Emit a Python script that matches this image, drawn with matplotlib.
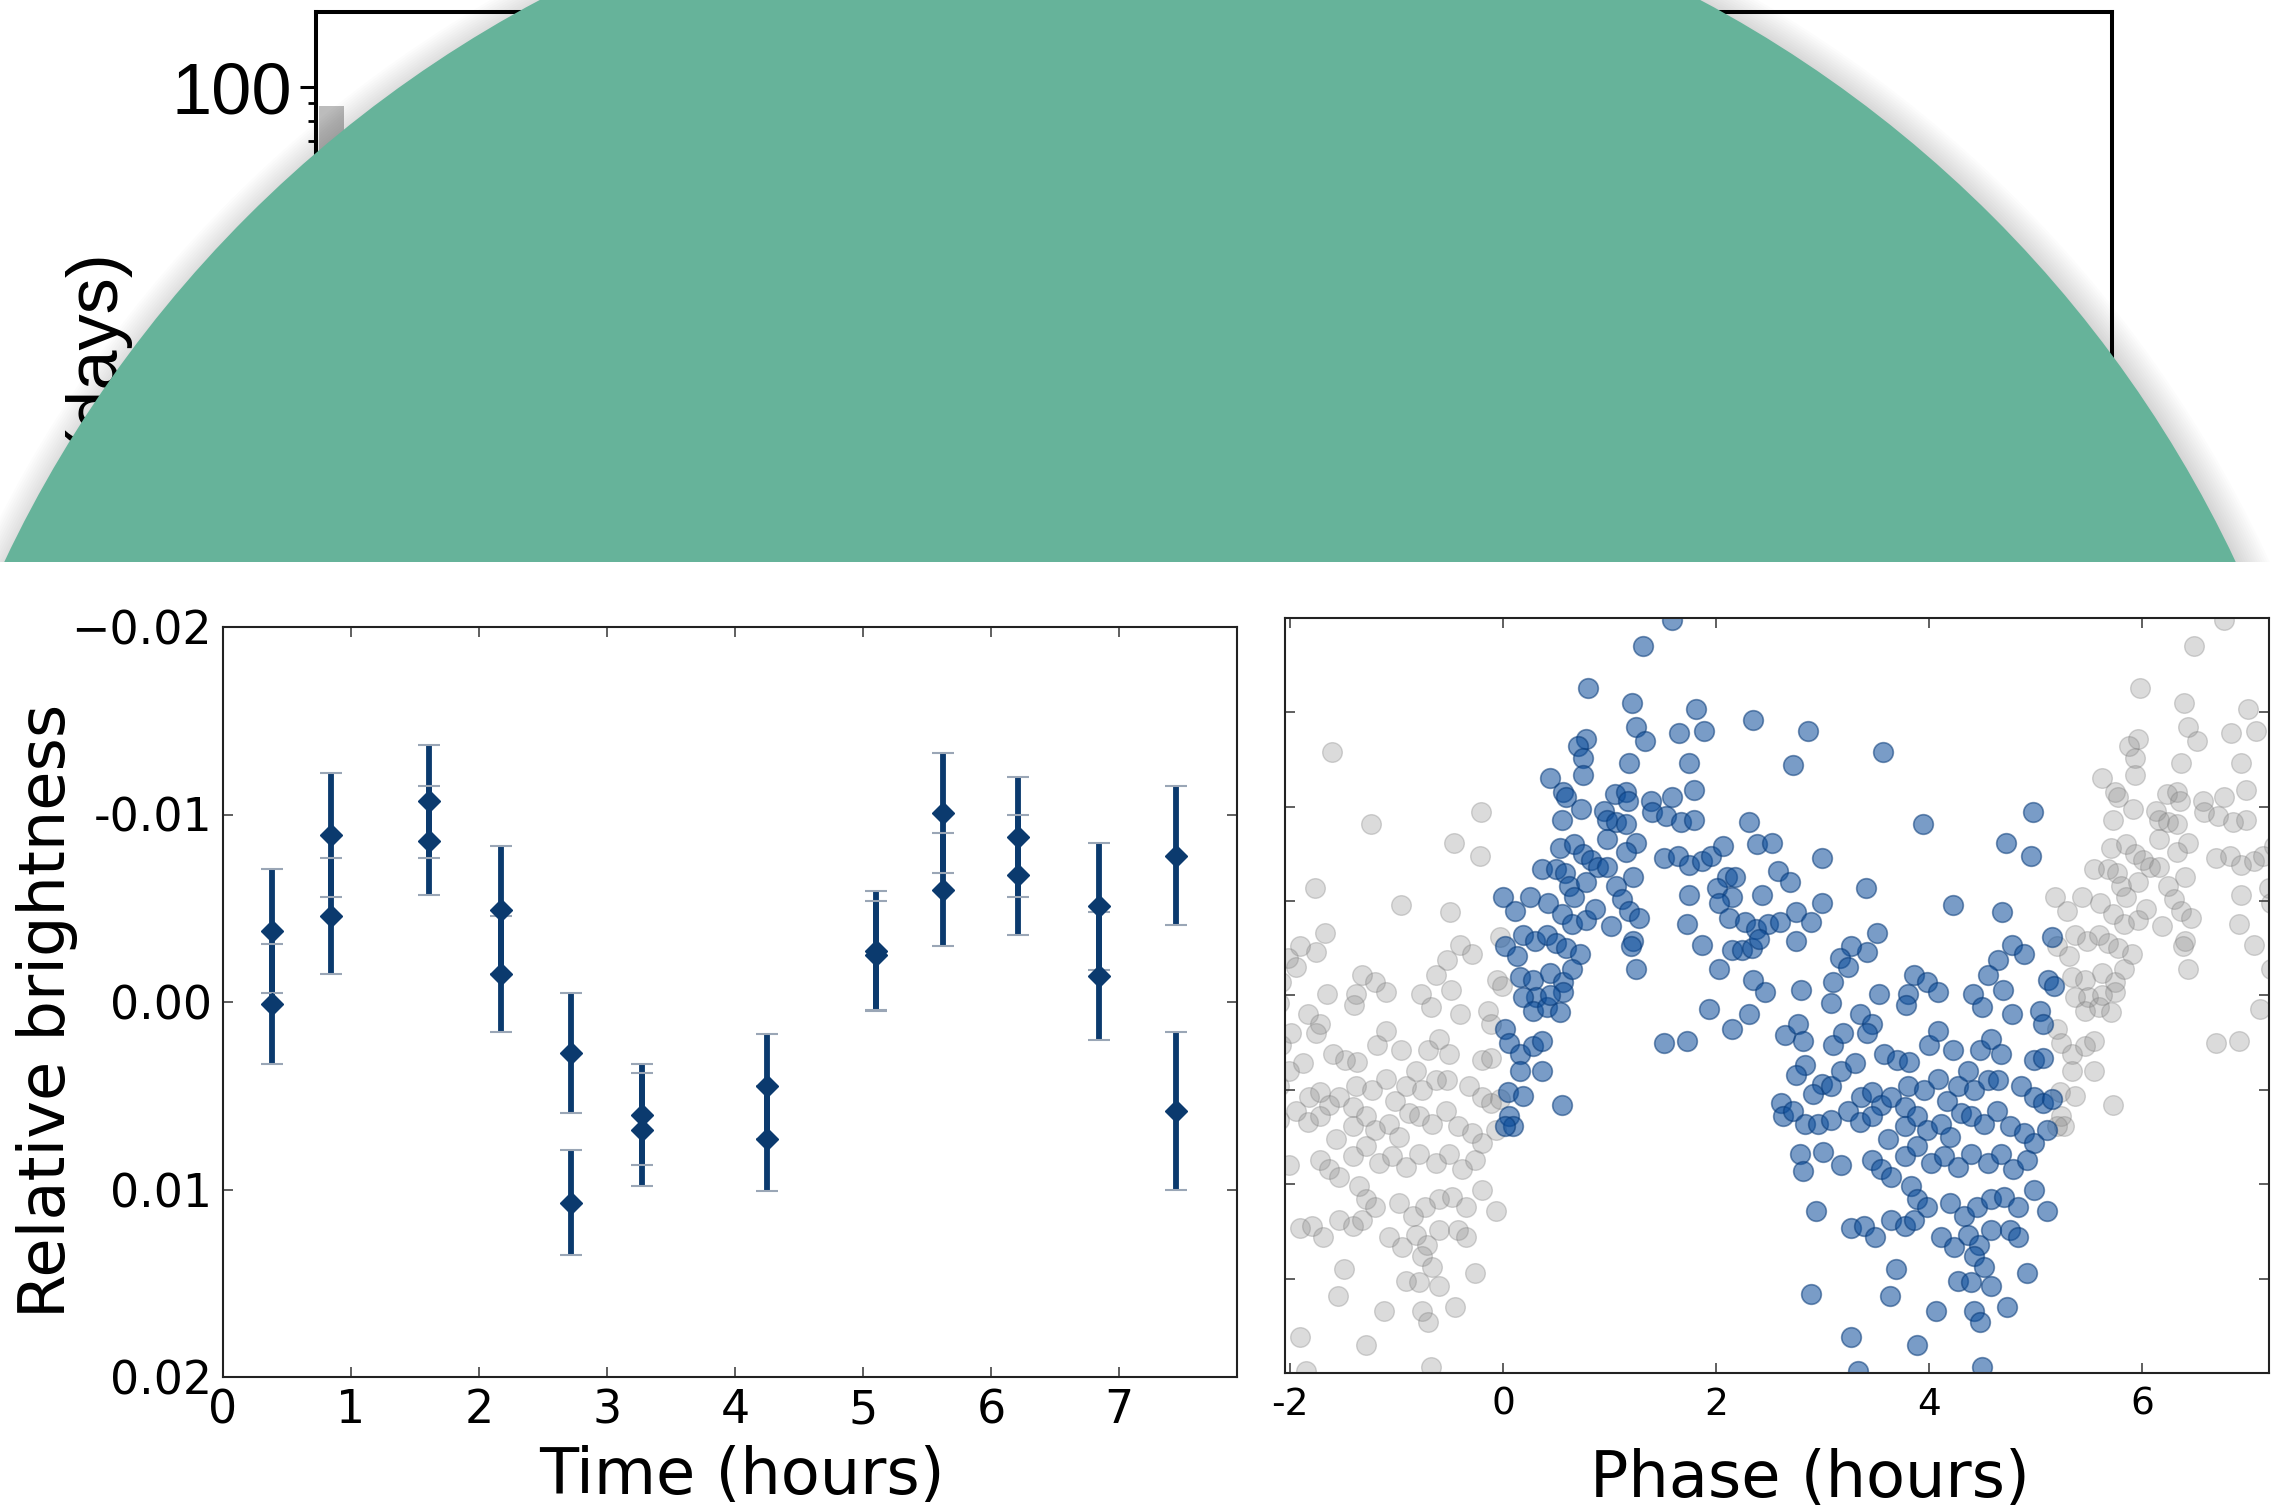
import numpy as np
import matplotlib.pyplot as plt
from matplotlib.patches import Circle, Rectangle
from matplotlib.ticker import LogLocator, FuncFormatter, NullFormatter

plt.rcParams['font.family'] = ['DejaVu Sans']

W, H = 2285, 1512

# top panel: only one grey bar shows above the green disc
bar_left = [0.12]
bar_height = [88]

# bottom left: relative brightness vs time, two exposures per visit
t_hours = [0.38, 0.38, 0.84, 0.84, 1.61, 1.61, 2.17, 2.17, 2.72, 2.72, 3.27, 3.27,
           4.25, 4.25, 5.10, 5.10, 5.62, 5.62, 6.21, 6.21, 6.84, 6.84, 7.44, 7.44]
rel_bright = [-0.0038, 0.0001, -0.0089, -0.0046, -0.0107, -0.0086, -0.0049, -0.0015,
              0.0027, 0.0107, 0.0060, 0.0068, 0.0045, 0.0073, -0.0027, -0.0025,
              -0.0101, -0.0060, -0.0088, -0.0068, -0.0051, -0.0014, -0.0078, 0.0058]
bright_err = [0.0033, 0.0032, 0.0033, 0.0031, 0.0030, 0.0029, 0.0034, 0.0031,
              0.0032, 0.0028, 0.0027, 0.0030, 0.0028, 0.0028, 0.0032, 0.0029,
              0.0032, 0.0030, 0.0032, 0.0032, 0.0034, 0.0034, 0.0037, 0.0042]

# bottom right: folded light curve (phase in hours, relative brightness)
fold_period = 5.18
phase_hours = [
    1.59, 1.31, 0.80, 1.21, 1.81, 2.35, 1.25, 1.33, 1.65, 1.89, 0.78, 0.70, 0.75, 0.75,
    1.18, 1.75, 0.44, 1.79, 0.56, 0.59, 1.05, 1.15, 1.17, 1.39, 1.59, 0.73, 0.95, 0.98,
    1.06, 1.15, 1.40, 1.53, 1.67, 1.79, 0.55, 2.31, 2.38, 0.98, 0.53, 0.67, 0.75, 0.83,
    0.89, 0.98, 1.25, 1.15, 1.51, 1.64, 1.75, 1.87, 1.95, 2.06, 0.37, 0.50, 0.58, 1.22,
    2.10, 2.18, 2.01, 2.15, 2.03, 2.43, 1.75, 0.62, 0.67, 0.78, 1.06, 1.12, 1.18, 1.28,
    0.00, 0.11, 0.25, 0.42, 0.55, 0.65, 0.78, 0.86, 1.01, 1.73, 2.12, 2.27, 2.37, 2.49,
    0.19, 0.30, 0.41, 0.50, 0.59, 0.72, 0.02, 0.13, 1.22, 1.20, 1.25, 1.87, 2.15, 2.24,
    2.34, 2.03, 2.40, 0.16, 0.28, 0.44, 0.56, 0.65, 2.35, 2.46, 0.31,
    2.52, 2.58, 2.69, 2.86, 2.72, 3.57, 3.94, 4.97, 4.72, 4.96, 2.99, 3.41, 2.99, 2.75,
    2.60, 2.89, 2.75, 3.51, 3.42, 3.27, 3.16, 3.24, 4.22, 4.68, 5.15, 4.78, 4.89, 4.65,
    4.55, 4.69, 3.86, 3.98, 4.08, 3.80, 3.53, 3.10, 2.80, 4.41, 5.12, 5.17,
    0.19, 0.28, 0.41, 0.53, 0.56, 0.44, 0.02, 0.06, 0.16, 0.28, 0.37, 0.16, 0.37, 0.05,
    0.19, 0.55, 0.06, 0.09, 0.02, 1.93, 2.15, 2.31, 1.51, 1.73,
    3.08, 3.35, 3.46, 3.78, 4.50, 4.78, 5.04, 5.07, 2.65, 2.77, 2.82, 3.10, 3.19, 3.42,
    3.58, 3.70, 3.81, 4.00, 4.08, 4.22, 4.48, 4.58, 4.67, 4.98, 5.07, 2.83, 2.75, 2.99,
    2.91, 3.08, 3.17, 3.30, 3.36, 3.46, 3.55, 3.64, 3.77, 3.80, 3.95, 4.08, 4.17, 4.27,
    4.36, 4.42, 4.30, 4.55, 4.65, 4.86, 4.98, 5.07, 5.15, 2.61, 2.63, 2.72, 2.83, 2.96,
    3.08, 3.24, 3.35, 3.46, 3.61, 3.77, 3.89, 3.98, 4.11, 4.20, 4.39, 4.51, 4.64, 4.76,
    4.89, 4.98, 5.11, 2.79, 3.00, 2.82, 3.17, 3.46, 3.55, 3.64, 3.77, 3.89, 4.02, 4.14,
    4.27, 4.39, 4.55, 4.67, 4.79, 4.92, 3.83, 3.89, 3.98, 4.20, 4.33, 4.45, 4.58, 4.70,
    4.83, 4.98, 5.11, 2.94, 3.27, 3.39, 3.49, 3.64, 3.77, 3.86, 4.11, 4.23, 4.36, 4.47,
    4.58, 4.76, 4.83, 4.42, 4.51, 4.27, 4.39, 4.58, 4.92, 3.69, 2.89, 3.63, 4.06, 4.42,
    4.48, 4.73, 3.27, 3.89, 4.50, 3.33]
phase_bright = [
    -0.0199, -0.0185, -0.0163, -0.0155, -0.0152, -0.0146, -0.0142, -0.0135, -0.0139, -0.0140,
    -0.0136, -0.0132, -0.0126, -0.0117, -0.0123, -0.0123, -0.0115, -0.0109, -0.0108, -0.0105,
    -0.0107, -0.0108, -0.0103, -0.0103, -0.0105, -0.0099, -0.0098, -0.0093, -0.0092, -0.0091,
    -0.0097, -0.0095, -0.0092, -0.0093, -0.0093, -0.0092, -0.0080, -0.0083, -0.0078, -0.0080,
    -0.0075, -0.0072, -0.0068, -0.0068, -0.0081, -0.0076, -0.0073, -0.0074, -0.0069, -0.0071,
    -0.0074, -0.0079, -0.0067, -0.0067, -0.0065, -0.0063, -0.0063, -0.0063, -0.0057, -0.0052,
    -0.0049, -0.0053, -0.0053, -0.0058, -0.0052, -0.0060, -0.0058, -0.0051, -0.0045, -0.0041,
    -0.0052, -0.0045, -0.0052, -0.0049, -0.0043, -0.0038, -0.0040, -0.0046, -0.0037, -0.0038,
    -0.0041, -0.0039, -0.0035, -0.0038, -0.0032, -0.0029, -0.0032, -0.0028, -0.0025, -0.0022,
    -0.0026, -0.0021, -0.0029, -0.0026, -0.0014, -0.0027, -0.0024, -0.0024, -0.0025, -0.0014,
    -0.0030, -0.0010, -0.0008, -0.0012, -0.0007, -0.0014, -0.0008, -0.0002, 0.0001,
    -0.0081, -0.0066, -0.0060, -0.0140, -0.0122, -0.0129, -0.0091, -0.0097, -0.0081, -0.0074,
    -0.0073, -0.0057, -0.0049, -0.0044, -0.0039, -0.0039, -0.0029, -0.0033, -0.0023, -0.0026,
    -0.0020, -0.0015, -0.0048, -0.0044, -0.0031, -0.0027, -0.0022, -0.0019, -0.0011, -0.0003,
    -0.0011, -0.0007, -0.0002, -0.0001, -0.0001, -0.0007, -0.0003, -0.0001, -0.0008, -0.0005,
    0.0001, 0.0008, 0.0006, 0.0009, -0.0002, 0.0000, 0.0018, 0.0025, 0.0031, 0.0027,
    0.0024, 0.0040, 0.0040, 0.0051, 0.0053, 0.0058, 0.0064, 0.0069, 0.0069, 0.0007,
    0.0018, 0.0010, 0.0025, 0.0024,
    0.0004, 0.0010, 0.0015, 0.0005, 0.0006, 0.0010, 0.0008, 0.0015, 0.0021, 0.0015,
    0.0024, 0.0026, 0.0020, 0.0020, 0.0031, 0.0034, 0.0035, 0.0026, 0.0019, 0.0029,
    0.0029, 0.0023, 0.0031, 0.0034, 0.0033, 0.0037, 0.0042, 0.0047, 0.0052, 0.0048,
    0.0040, 0.0036, 0.0054, 0.0051, 0.0058, 0.0054, 0.0059, 0.0048, 0.0050, 0.0044,
    0.0056, 0.0048, 0.0040, 0.0050, 0.0062, 0.0045, 0.0045, 0.0048, 0.0054, 0.0057,
    0.0055, 0.0057, 0.0064, 0.0061, 0.0068, 0.0068, 0.0066, 0.0061, 0.0067, 0.0064,
    0.0076, 0.0069, 0.0064, 0.0071, 0.0068, 0.0075, 0.0064, 0.0068, 0.0061, 0.0069,
    0.0073, 0.0078, 0.0071, 0.0084, 0.0083, 0.0093, 0.0090, 0.0087, 0.0092, 0.0096,
    0.0085, 0.0080, 0.0089, 0.0085, 0.0091, 0.0084, 0.0089, 0.0084, 0.0092, 0.0087,
    0.0101, 0.0108, 0.0112, 0.0110, 0.0117, 0.0112, 0.0108, 0.0107, 0.0112, 0.0103,
    0.0114, 0.0114, 0.0123, 0.0122, 0.0128, 0.0119, 0.0122, 0.0119, 0.0128, 0.0133,
    0.0127, 0.0132, 0.0124, 0.0124, 0.0128, 0.0138, 0.0144, 0.0151, 0.0152, 0.0154,
    0.0147, 0.0145, 0.0158, 0.0159, 0.0167, 0.0167, 0.0173, 0.0165, 0.0181, 0.0185,
    0.0197, 0.0199]


def px_axes(left, top, right, bottom):
    return [left / W, 1 - bottom / H, (right - left) / W, (bottom - top) / H]


fig = plt.figure(figsize=(W / 100, H / 100), dpi=100, facecolor='white')

# ---- top panel (log period axis), mostly covered
ax_top = fig.add_axes(px_axes(316, 12, 2112, 1100))
ax_top.set_yscale('log')
ax_top.set_ylim(0.13, 163.6)
ax_top.set_xlim(0, 72)
ax_top.bar(bar_left, bar_height, width=1.0, align='edge', bottom=0.13, color='#bcbcbc', lw=0)
for s in ax_top.spines.values():
    s.set_linewidth(2.9)
ax_top.yaxis.set_major_locator(LogLocator(base=10))
ax_top.yaxis.set_minor_locator(LogLocator(base=10, subs=range(2, 10)))
ax_top.yaxis.set_major_formatter(FuncFormatter(lambda v, p: f'{v:g}'))
ax_top.yaxis.set_minor_formatter(NullFormatter())
ax_top.tick_params(axis='y', which='major', direction='out', length=11.5, width=2.2,
                   labelsize=52, pad=6, labelfontfamily='Liberation Sans')
ax_top.tick_params(axis='y', which='minor', direction='out', length=6, width=2)
ax_top.tick_params(axis='x', bottom=False, labelbottom=False)
# label belongs to the top axes so the disc covers it
ax_top.text(95 / W, 1 - 248 / H, '(days)', transform=fig.transFigure,
            rotation=90, ha='center', va='top', fontsize=52, family='Liberation Sans',
            clip_on=False)

# ---- green disc with soft shadow, cut off by the lower white band
ov = fig.add_axes([0, 0, 1, 1])
ov.set_xlim(0, W)
ov.set_ylim(H, 0)
ov.axis('off')
ov.patch.set_alpha(0)
for k in range(14):
    ov.add_patch(Circle((1124, 1092), 1234 + 2.2 * k, color='black', alpha=0.011, lw=0))
ov.add_patch(Circle((1120, 1089), 1234, color='#66b39a', lw=0))
ov.add_patch(Rectangle((0, 562), W, H - 562, color='white', lw=0))

# ---- bottom left: light curve
ax_lc = fig.add_axes(px_axes(223, 627, 1237, 1377))
line, caps, bars = ax_lc.errorbar(t_hours, rel_bright, yerr=bright_err, fmt='D',
                                  color='#0b3a6e', ms=11, elinewidth=4.2,
                                  capsize=8, capthick=1.5)
for c in caps:
    c.set_color('#9aa6b6')
    c.set_markeredgecolor('#9aa6b6')
ax_lc.set_xlim(0, 7.92)
ax_lc.set_ylim(0.02, -0.02)
ax_lc.set_xticks(range(8))
ax_lc.set_yticks([-0.02, -0.01, 0, 0.01, 0.02])
ax_lc.set_yticklabels(['\u22120.02', '-0.01', '0.00', '0.01', '0.02'])
ax_lc.tick_params(direction='in', length=7, width=1.2, top=True, right=True,
                  labelsize=33, pad=8, color='#444444')
for s in ax_lc.spines.values():
    s.set_linewidth(1.5)
    s.set_color('#222222')
fig.text(47 / W, 1 - 1011 / H, 'Relative brightness', rotation=90, ha='center',
         va='center', fontsize=46)
fig.text(742 / W, 1 - 1476 / H, 'Time (hours)', ha='center', va='center', fontsize=46)

# ---- bottom right: folded light curve
ax_ph = fig.add_axes(px_axes(1285, 618, 2269, 1373))
ph = np.array(phase_hours)
br = np.array(phase_bright)
ax_ph.scatter(np.concatenate([ph - fold_period, ph + fold_period]), np.concatenate([br, br]),
              s=200, c='#8a8a8a', alpha=0.3, edgecolors='#777777', linewidths=1)
ax_ph.scatter(ph, br, s=200, c='#0b4c9a', alpha=0.55, edgecolors='#083a78', linewidths=1.2)
ax_ph.set_xlim(-2.047, 7.19)
ax_ph.set_ylim(0.02, -0.02)
ax_ph.set_xticks([-2, 0, 2, 4, 6])
ax_ph.set_xticklabels(['-2', '0', '2', '4', '6'])
ax_ph.set_yticks([-0.015, -0.01, -0.005, 0, 0.005, 0.01, 0.015])
ax_ph.set_yticklabels([])
ax_ph.tick_params(direction='in', length=7, width=1.2, top=True, right=True,
                  labelsize=27, pad=10, color='#444444')
for s in ax_ph.spines.values():
    s.set_linewidth(1.5)
    s.set_color('#222222')
fig.text(1810 / W, 1 - 1479 / H, 'Phase (hours)', ha='center', va='center', fontsize=46)

fig.savefig('out.png', dpi=100, facecolor='white')
